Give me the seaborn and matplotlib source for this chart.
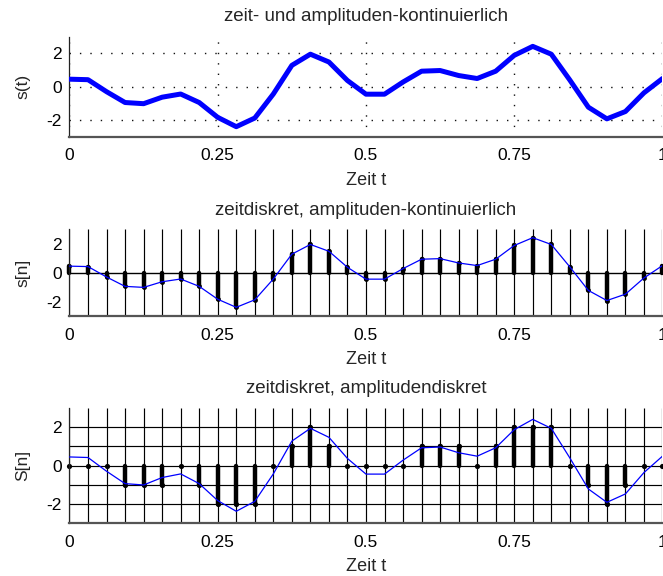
import numpy as np
import pandas as pd
import matplotlib
matplotlib.use("Agg")
import matplotlib.pyplot as plt
import seaborn as sns

# Signal sampled at 33 equidistant instants on [0, 1] (step 1/32)
t_samples = np.linspace(0.0, 1.0, 33)
s_values = [0.45, 0.42, -0.30, -0.95, -1.02, -0.63, -0.44, -0.95, -1.84, -2.40,
            -1.88, -0.44, 1.28, 1.95, 1.48, 0.37, -0.45, -0.45, 0.28, 0.93,
            0.97, 0.67, 0.49, 0.93, 1.88, 2.42, 1.95, 0.40, -1.23, -1.93,
            -1.49, -0.37, 0.49]
# Amplitude-quantised values (step 1)
q_values = [0, 0, 0, -1, -1, -1, 0, -1, -2, -2, -2, 0, 1, 2, 1, 0, 0, 0, 0, 1,
            1, 1, 0, 1, 2, 2, 2, 0, -1, -2, -1, 0, 0]
quant_levels = [-2, -1, 0, 1, 2]

x_ticks = [0, 0.25, 0.5, 0.75, 1]
x_ticklabels = ["0", "0.25", "0.5", "0.75", "1"]
y_ticks = [-2, 0, 2]

titles = ["zeit- und amplituden-kontinuierlich",
          "zeitdiskret, amplituden-kontinuierlich",
          "zeitdiskret, amplitudendiskret"]
ylabels = ["s(t)", "s[n]", "S[n]"]
xlabel = "Zeit t"

df = pd.DataFrame({"t": t_samples, "s": s_values, "q": q_values})

sns.set_theme(style="white")
plt.rcParams["font.family"] = ["Liberation Sans", "DejaVu Sans"]
plt.rcParams["axes.unicode_minus"] = False

BLUE = "#0000ff"
fig = plt.figure(figsize=(6.63, 5.76), dpi=100)
ax1 = fig.add_axes([0.1048, 0.7627, 0.8944, 0.1736])
ax2 = fig.add_axes([0.1048, 0.4514, 0.8944, 0.1505])
ax3 = fig.add_axes([0.1048, 0.0925, 0.8944, 0.1986])
axes = [ax1, ax2, ax3]
title_pads = [11.5, 10.3, 10.8]

# --- continuous signal ---
sns.lineplot(data=df, x="t", y="s", ax=ax1, color=BLUE, lw=3.6, zorder=3)
ax1.grid(True, linestyle=(0, (1, 6.5)), color="#111111", lw=1.0)

# --- time-discrete signal ---
ax2.vlines(t_samples, -3, 3, color="black", lw=0.85, zorder=1)
ax2.axhline(0, color="black", lw=1.0, zorder=1)
ax2.vlines(t_samples, 0, s_values, color="black", lw=3.2, capstyle="round",
           zorder=2, clip_on=False)
ax2.scatter(t_samples, s_values, s=12, color="black", zorder=2, clip_on=False,
            linewidths=0)
sns.lineplot(data=df, x="t", y="s", ax=ax2, color=BLUE, lw=0.9, zorder=3)

# --- time- and amplitude-discrete signal ---
ax3.vlines(t_samples, -3, 3, color="black", lw=0.85, zorder=1)
ax3.hlines(quant_levels, 0, 1, color="black", lw=0.85, zorder=1)
ax3.vlines(t_samples, 0, q_values, color="black", lw=3.2, capstyle="round",
           zorder=2, clip_on=False)
ax3.scatter(t_samples, q_values, s=14, color="black", zorder=2, clip_on=False,
            linewidths=0)
sns.lineplot(data=df, x="t", y="s", ax=ax3, color=BLUE, lw=0.9, zorder=3)

for ax, title, ylab, pad in zip(axes, titles, ylabels, title_pads):
    ax.set_xlim(0, 1)
    ax.set_ylim(-3, 3)
    ax.set_xticks(x_ticks)
    ax.set_xticklabels(x_ticklabels)
    ax.set_yticks(y_ticks)
    ax.set_title(title, fontsize=13.5, pad=pad)
    ax.set_xlabel(xlabel, fontsize=13, labelpad=5.8)
    ax.set_ylabel(ylab, fontsize=12.5)
    ax.yaxis.set_label_coords(-0.066, 0.5)
    ax.tick_params(axis="both", direction="in", length=3, width=0.8,
                   colors="#222222", labelsize=12.5, labelcolor="black")
    ax.tick_params(axis="x", pad=8.5)
    ax.tick_params(axis="y", pad=5.5)
    ax.spines["top"].set_visible(False)
    ax.spines["right"].set_visible(False)
    ax.spines["left"].set_color("#222222")
    ax.spines["left"].set_linewidth(0.9)
    ax.spines["bottom"].set_color("#555555")
    ax.spines["bottom"].set_linewidth(1.6)
    ax.set_facecolor("white")

fig.savefig("out.png", dpi=100, facecolor="white")
